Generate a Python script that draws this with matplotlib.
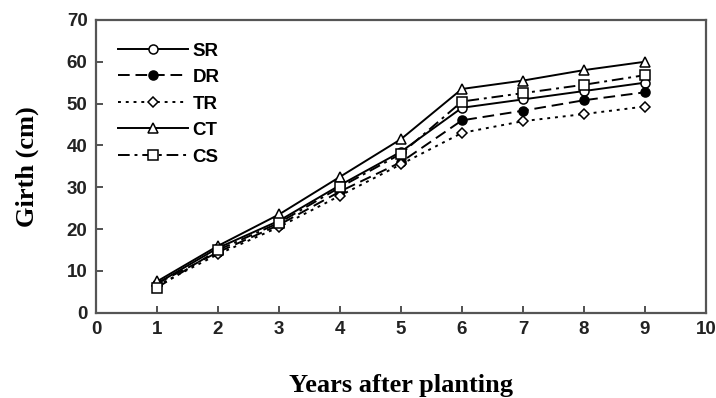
import matplotlib
matplotlib.use("Agg")
import matplotlib.pyplot as plt
from matplotlib.font_manager import FontProperties

# Girth growth per treatment over years after planting
years = [1, 2, 3, 4, 5, 6, 7, 8, 9]
sr = [7.0, 15.5, 22.0, 30.5, 38.5, 49.0, 51.0, 53.0, 55.0]
dr = [7.0, 14.5, 21.0, 29.0, 36.0, 46.0, 48.3, 50.8, 52.7]
tr = [6.5, 14.0, 20.5, 28.0, 35.5, 43.0, 45.8, 47.5, 49.3]
ct = [7.5, 16.0, 23.5, 32.5, 41.5, 53.5, 55.5, 58.0, 60.0]
cs = [6.0, 15.0, 21.5, 30.0, 38.0, 50.5, 52.5, 54.5, 56.8]

fig = plt.figure(figsize=(7.16, 3.98), dpi=100)
ax = fig.add_axes([0.134, 0.214, 0.852, 0.736])

mk = dict(color="black", lw=1.4, ms=6.5, mew=1.1)
ax.plot(years, sr, linestyle="-", marker="o", mfc="white", label="SR", **mk)
ax.plot(years, dr, linestyle=(0, (6, 3)), marker="o", mfc="black", label="DR", **mk)
ax.plot(years, tr, linestyle=(0, (1.5, 2.5)), marker="D", mfc="white", label="TR",
        color="black", lw=1.4, ms=5, mew=1.1)
ax.plot(years, ct, linestyle="-", marker="^", mfc="white", label="CT", **mk)
ax.plot(years, cs, linestyle=(0, (6, 2.5, 1.5, 2.5)), marker="s", mfc="white", label="CS", **mk)

ax.set_xlim(0, 10)
ax.set_ylim(0, 70)
ax.set_xticks(range(0, 11))
ax.set_yticks(range(0, 71, 10))

tick_font = FontProperties(family="Liberation Sans", weight="bold", size=13.5)
for lab in ax.get_xticklabels() + ax.get_yticklabels():
    lab.set_fontproperties(tick_font)
ax.tick_params(direction="in", length=5, width=1.2, colors="#333333", pad=6)
ax.tick_params(labelcolor="#222222")

for s in ax.spines.values():
    s.set_color("#555555")
    s.set_linewidth(1.6)

ax.set_xlabel("Years after planting", fontfamily="Liberation Serif",
              fontweight="bold", fontsize=19, labelpad=26)
ax.set_ylabel("Girth (cm)", fontfamily="Liberation Serif",
              fontweight="bold", fontsize=19, labelpad=20)

ax.legend(loc="upper left", frameon=False, handlelength=3.7,
          handletextpad=0.25, labelspacing=0.5, borderaxespad=0.8,
          prop={"family": "Liberation Sans", "weight": "bold", "size": 13.5})

fig.savefig("out.png", dpi=100)
